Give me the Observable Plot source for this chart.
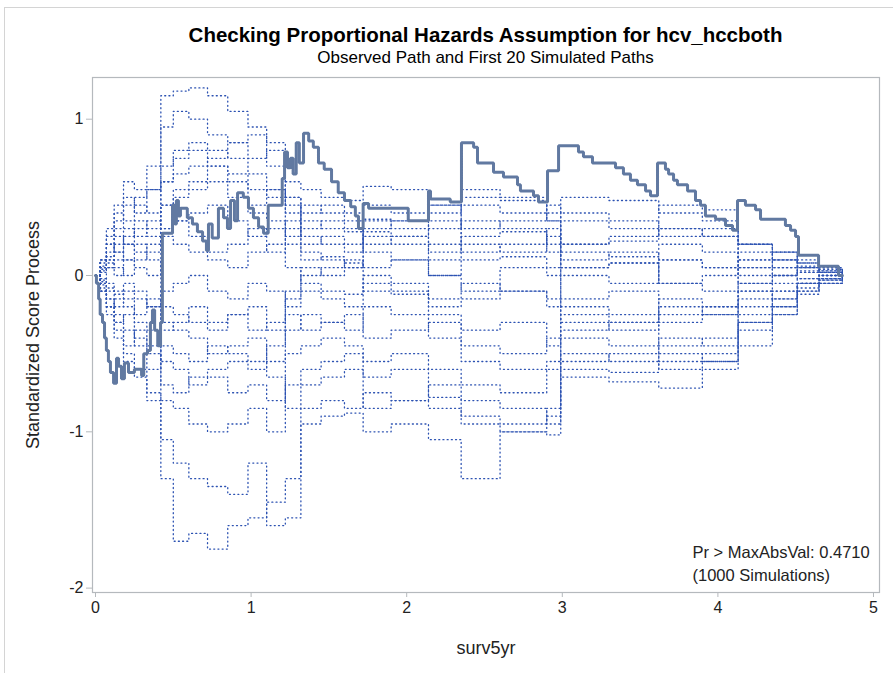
<!DOCTYPE html>
<html>
<head>
<meta charset="utf-8">
<script src="https://cdn.jsdelivr.net/npm/d3@7"></script>
<script src="https://cdn.jsdelivr.net/npm/@observablehq/plot@0.6"></script>
<style>
  html, body { margin: 0; padding: 0; background: #fff; }
  #wrap { position: relative; width: 893px; height: 673px; overflow: hidden; font-family: "Liberation Sans", Arial, sans-serif; }
  #border { position: absolute; left: 4px; top: 7px; width: 1000px; height: 1000px; border-left: 1px solid #d4d4d4; border-top: 1px solid #d4d4d4; }
  #title { position: absolute; left: 92px; width: 787px; top: 23px; text-align: center; font-weight: bold; font-size: 20.5px; color: #000; white-space: nowrap; }
  #sub { position: absolute; left: 92px; width: 787px; top: 48px; text-align: center; font-size: 17px; color: #000; white-space: nowrap; }
  #ylab { position: absolute; left: 33px; top: 335px; transform: translate(-50%, -50%) rotate(-90deg); font-size: 18px; color: #222; white-space: nowrap; }
  #chart { position: absolute; left: 0; top: 70px; }
</style>
</head>
<body>
<div id="wrap">
  <div id="border"></div>
  <div id="title">Checking Proportional Hazards Assumption for hcv_hccboth</div>
  <div id="sub">Observed Path and First 20 Simulated Paths</div>
  <div id="chart"></div>
  <div id="ylab">Standardized Score Process</div>
</div>
<script>
// Observed score process (step path)
const obsX = [0,0.006,0.02,0.03,0.045,0.058,0.07,0.083,0.096,0.116,0.135,0.148,0.167,0.186,0.212,0.25,0.296,0.31,0.334,0.353,0.366,0.38,0.4,0.418,0.43,0.495,0.51,0.52,0.533,0.546,0.59,0.623,0.655,0.688,0.713,0.726,0.75,0.79,0.823,0.848,0.868,0.893,0.913,0.95,0.983,1.015,1.048,1.08,1.11,1.2,1.215,1.234,1.253,1.27,1.29,1.31,1.337,1.37,1.4,1.433,1.47,1.517,1.56,1.6,1.64,1.67,1.69,1.72,1.755,2.01,2.14,2.153,2.28,2.352,2.43,2.455,2.558,2.622,2.712,2.731,2.815,2.847,2.905,2.976,3.104,3.136,3.194,3.342,3.393,3.438,3.483,3.535,3.567,3.612,3.663,3.683,3.715,3.74,3.805,3.856,3.888,3.92,3.985,4.049,4.094,4.126,4.177,4.242,4.274,4.434,4.467,4.499,4.518,4.647,4.775,4.8];
const obsY = [0,-0.05,-0.15,-0.25,-0.3,-0.4,-0.48,-0.55,-0.62,-0.69,-0.53,-0.58,-0.66,-0.56,-0.62,-0.6,-0.64,-0.5,-0.48,-0.3,-0.22,-0.35,-0.45,-0.3,0.27,0.45,0.33,0.48,0.38,0.43,0.37,0.33,0.28,0.22,0.16,0.33,0.24,0.43,0.37,0.3,0.48,0.35,0.53,0.5,0.43,0.37,0.31,0.27,0.45,0.62,0.79,0.69,0.75,0.65,0.85,0.72,0.91,0.86,0.82,0.72,0.68,0.6,0.53,0.48,0.44,0.38,0.3,0.46,0.43,0.35,0.54,0.49,0.47,0.85,0.82,0.72,0.66,0.63,0.58,0.54,0.51,0.47,0.67,0.83,0.79,0.76,0.72,0.69,0.65,0.61,0.58,0.54,0.51,0.72,0.68,0.65,0.61,0.58,0.54,0.48,0.45,0.38,0.36,0.32,0.29,0.48,0.45,0.42,0.36,0.32,0.29,0.25,0.13,0.06,0,0];

// Simulated paths: values at common knot times
const simTimes = [0,0.03,0.07,0.12,0.18,0.25,0.33,0.42,0.5,0.6,0.72,0.85,0.98,1.1,1.22,1.32,1.45,1.6,1.72,1.9,2.14,2.35,2.6,2.9,2.99,3.3,3.62,3.9,4.13,4.35,4.51,4.65,4.8];
const simPaths = [
  [0,0.1,0.3,0.45,0.6,0.55,0.7,1.15,1.18,1.2,1.15,1.05,0.95,0.85,0.6,0.55,0.5,0.48,0.57,0.55,0.45,0.5,0.48,0.35,0.5,0.48,0.4,0.35,0.2,0.15,0.08,0.05,0],
  [0,-0.1,-0.25,-0.4,-0.5,-0.6,-0.75,-1.3,-1.7,-1.65,-1.75,-1.6,-1.55,-1.45,-1.3,-0.95,-0.9,-0.88,-1.0,-0.95,-1.05,-1.3,-1.0,-0.9,-0.65,-0.68,-0.72,-0.6,-0.45,-0.25,-0.1,-0.05,0],
  [0,0.05,0.2,0.35,0.5,0.4,0.55,0.95,1.05,1.0,0.9,0.85,0.75,0.8,0.5,0.35,0.3,0.28,0.36,0.35,0.4,0.55,0.5,0.4,0.2,0.22,0.3,0.25,0.05,0.1,0.05,0.02,0],
  [0,-0.05,-0.2,-0.35,-0.55,-0.65,-0.8,-1.05,-1.2,-1.3,-1.35,-1.4,-1.2,-1.6,-1.55,-0.85,-0.8,-0.85,-0.75,-0.8,-0.85,-0.95,-1.0,-1.02,-0.6,-0.62,-0.5,-0.55,-0.3,-0.2,-0.05,-0.03,0],
  [0,0.1,0.25,0.4,0.35,0.45,0.4,0.6,0.8,0.85,0.8,0.75,0.65,0.55,0.4,0.2,0.25,0.2,0.25,0.2,0.1,0.25,0.28,0.15,0.35,0.3,0.45,0.42,0.2,0.15,0.1,0.05,0],
  [0,-0.1,-0.15,-0.3,-0.45,-0.35,-0.5,-0.8,-0.85,-0.95,-1.0,-0.95,-0.85,-1.0,-0.7,-0.6,-0.55,-0.5,-0.65,-0.6,-0.78,-0.9,-0.95,-0.85,-0.55,-0.5,-0.4,-0.45,-0.25,-0.15,-0.08,-0.02,0],
  [0,0.05,0.15,0.25,0.2,0.3,0.25,0.45,0.55,0.6,0.7,0.65,0.55,0.5,0.45,0.3,0.35,0.3,0.15,0.1,0.0,-0.1,0.05,0.0,0.15,0.12,0.2,0.15,0.0,0.05,0.03,0.02,0],
  [0,-0.05,-0.1,-0.2,-0.15,-0.3,-0.35,-0.55,-0.6,-0.7,-0.65,-0.75,-0.7,-0.8,-0.5,-0.45,-0.4,-0.45,-0.55,-0.5,-0.6,-0.7,-0.75,-0.6,-0.35,-0.3,-0.45,-0.4,-0.2,-0.1,-0.05,-0.02,0],
  [0,0.08,0.1,0.2,0.3,0.25,0.35,0.3,0.35,0.4,0.45,0.35,0.25,0.3,0.2,0.15,0.1,0.05,0.28,0.25,0.15,0.2,0.15,0.25,0.05,0.08,0.1,0.05,-0.05,0.0,0.02,0.0,0],
  [0,-0.02,-0.08,-0.1,-0.2,-0.25,-0.15,-0.3,-0.35,-0.4,-0.5,-0.45,-0.4,-0.55,-0.35,-0.25,-0.3,-0.25,-0.4,-0.35,-0.3,-0.45,-0.5,-0.4,-0.2,-0.25,-0.3,-0.25,-0.1,-0.05,-0.02,0.0,0],
  [0,0.03,0.05,0.15,0.1,0.2,0.15,0.25,0.2,0.15,0.1,0.05,0.15,0.2,0.05,-0.05,-0.1,-0.12,0.0,-0.05,-0.15,-0.05,-0.1,-0.2,0.0,-0.05,0.1,0.05,0.1,0.05,-0.02,0.0,0],
  [0,-0.04,-0.05,-0.12,-0.1,-0.15,-0.2,-0.1,-0.05,0.0,-0.1,-0.15,-0.05,-0.1,-0.2,-0.1,-0.15,-0.2,-0.05,-0.1,-0.2,-0.15,-0.1,-0.15,-0.3,-0.35,-0.2,-0.25,-0.15,-0.1,-0.05,-0.02,0],
  [0,0.06,0.12,0.3,0.45,0.5,0.55,0.7,0.75,0.8,0.7,0.6,0.45,0.55,0.3,0.1,0.12,0.08,-0.1,-0.12,-0.25,-0.35,-0.3,-0.45,-0.25,-0.3,-0.15,-0.2,-0.05,0.0,0.05,0.02,0],
  [0,-0.06,-0.15,-0.25,-0.35,-0.45,-0.6,-0.35,-0.3,-0.2,-0.3,-0.25,-0.35,-0.3,-0.1,0.0,0.05,0.1,0.05,0.1,0.0,0.1,0.12,0.05,-0.15,-0.1,-0.25,-0.2,-0.1,-0.15,-0.05,-0.03,0],
  [0,0.02,0.1,0.05,0.0,0.1,0.2,0.45,0.5,0.55,0.6,0.5,0.4,0.35,0.25,0.45,0.4,0.35,0.2,0.25,0.35,0.15,0.2,0.3,0.1,0.15,-0.05,0.0,0.15,0.1,0.05,0.03,0],
  [0,-0.08,-0.2,-0.3,-0.25,-0.4,-0.45,-0.7,-0.75,-0.65,-0.6,-0.55,-0.6,-0.45,-0.25,-0.35,-0.3,-0.35,-0.2,-0.25,-0.4,-0.55,-0.6,-0.55,-0.4,-0.45,-0.55,-0.5,-0.3,-0.2,-0.1,-0.05,0],
  [0,0.04,0.08,0.1,0.2,0.15,0.1,-0.2,-0.25,-0.3,-0.35,-0.25,-0.2,-0.35,-0.15,0.05,0.0,0.05,0.35,0.3,0.2,0.35,0.3,0.2,0.05,0.08,-0.05,-0.1,0.05,0.0,0.02,0.0,0],
  [0,-0.03,0.05,0.0,0.1,0.05,0.0,0.3,0.35,0.25,0.15,0.2,0.3,0.15,0.35,0.25,0.2,0.15,0.45,0.4,0.3,0.45,0.4,0.35,0.2,0.25,0.3,0.25,0.1,0.15,0.08,0.04,0],
  [0,-0.1,-0.2,-0.15,-0.05,-0.1,-0.2,-0.45,-0.5,-0.55,-0.45,-0.5,-0.55,-0.65,-0.85,-0.7,-0.65,-0.6,-0.85,-0.8,-0.7,-0.8,-0.85,-0.95,-0.5,-0.55,-0.6,-0.55,-0.35,-0.25,-0.12,-0.05,0],
  [0,0.1,0.2,0.15,0.25,0.35,0.3,0.6,0.65,0.7,0.75,0.85,0.9,0.7,0.5,0.4,0.45,0.4,0.3,0.35,0.45,0.3,0.35,0.45,0.4,0.35,0.25,0.3,0.2,0.1,0.06,0.03,0]
];
const xTicks = [0, 1, 2, 3, 4, 5];
const yTicks = [-2, -1, 0, 1];
const inset = ["Pr > MaxAbsVal: 0.4710", "(1000 Simulations)"];

const obs = obsX.map((x, i) => ({x, y: obsY[i]}));
const sims = simPaths.flatMap((p, k) => p.map((y, i) => ({sim: k, x: simTimes[i], y})));

const font = "'Liberation Sans', Arial, sans-serif";
const chart = Plot.plot({
  width: 893,
  height: 603,
  marginLeft: 92,
  marginRight: 14,
  marginTop: 7,
  marginBottom: 81,
  style: {fontFamily: font, fontSize: "16px", color: "#222", background: "transparent"},
  x: {domain: [-0.0193, 5.0386]},
  y: {domain: [-2.028, 1.2668]},
  marks: [
    Plot.line(sims, {x: "x", y: "y", z: "sim", curve: "step-after", stroke: "#2c52b2", strokeWidth: 1.3, strokeDasharray: "1,3.2"}),
    Plot.line(obs, {x: "x", y: "y", curve: "step-after", stroke: "#6179a1", strokeWidth: 3, strokeLinejoin: "miter"}),
    Plot.frame({stroke: "#b5b9bd", strokeWidth: 1.2}),
    Plot.axisX({ticks: xTicks, tickSize: 5, tickPadding: 4, stroke: "#b5b9bd", fontSize: 16, label: null, tickFormat: d3.format("d")}),
    Plot.axisY({ticks: yTicks, tickSize: 6, tickPadding: 3, stroke: "#b5b9bd", fontSize: 16, label: null, tickFormat: d => d < 0 ? "-" + Math.abs(d) : String(d)}),
    Plot.text(["surv5yr"], {frameAnchor: "bottom", dy: 56, fontSize: 18, fill: "#222", lineAnchor: "middle"}),
    Plot.text([inset[0]], {frameAnchor: "bottom-right", dx: -187, dy: -40, textAnchor: "start", lineAnchor: "middle", fontSize: 16.5, fill: "#222"}),
    Plot.text([inset[1]], {frameAnchor: "bottom-right", dx: -187, dy: -17, textAnchor: "start", lineAnchor: "middle", fontSize: 16.5, fill: "#222"})
  ]
});
document.getElementById("chart").appendChild(chart);
</script>
</body>
</html>
